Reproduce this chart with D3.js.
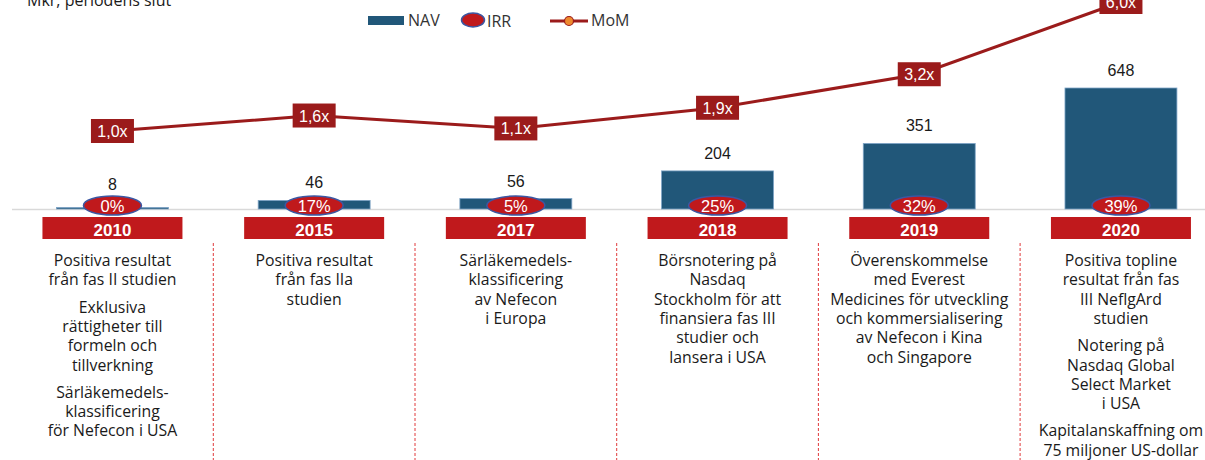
<!DOCTYPE html>
<html lang="sv">
<head>
  <meta charset="UTF-8">
  <title>NAV, IRR och MoM</title>
  <script src="https://d3js.org/d3.v7.min.js"></script>
  <style>
    body { margin: 0; background: #fff; }
    .desc { font-family: "Open Sans", sans-serif; font-size: 15.8px; fill: #1a1a1a; text-anchor: middle; }
    .val { font-family: "Liberation Sans", Arial, sans-serif; font-size: 16px; fill: #1a1a1a; text-anchor: middle; }
    .legend text { font-family: "Open Sans", sans-serif; font-size: 16px; fill: #333; }
  </style>
</head>
<body>
  <div id="chart"></div>

  <script>
    const years = ["2010", "2015", "2017", "2018", "2019", "2020"];
    const nav = [8, 46, 56, 204, 351, 648];
    const irr = [0, 17, 5, 25, 32, 39];
    const mom = [1.0, 1.6, 1.1, 1.9, 3.2, 6.0];
    const milestones = [
      [["Positiva resultat", "från fas II studien"], ["Exklusiva", "rättigheter till", "formeln och", "tillverkning"], ["Särläkemedels-", "klassificering", "för Nefecon i USA"]],
      [["Positiva resultat", "från fas IIa", "studien"]],
      [["Särläkemedels-", "klassificering", "av Nefecon", "i Europa"]],
      [["Börsnotering på", "Nasdaq", "Stockholm för att", "finansiera fas III", "studier och", "lansera i USA"]],
      [["Överenskommelse", "med Everest", "Medicines för utveckling", "och kommersialisering", "av Nefecon i Kina", "och Singapore"]],
      [["Positiva topline", "resultat från fas", "III NeflgArd", "studien"], ["Notering på", "Nasdaq Global", "Select Market", "i USA"], ["Kapitalanskaffning om", "75 miljoner US-dollar"]]
    ];

    const width = 1205, height = 460;
    const base = 209;

    const svg = d3.select("#chart").append("svg")
      .attr("width", width).attr("height", height);

    const x = d3.scaleBand()
      .domain(years)
      .range([11.6, 1221.8])
      .paddingInner(0.445)
      .paddingOuter(0.2225);
    const cx = d => x(d) + x.bandwidth() / 2;

    const y = d3.scaleLinear().domain([0, 648]).range([base, 88]);
    const yMom = d3.scaleLinear().domain([0, 6]).range([156.8, 2]);

    // title
    svg.append("text")
      .attr("x", 27).attr("y", 6)
      .style("font-family", "'Open Sans', sans-serif")
      .style("font-size", "16px")
      .attr("fill", "#1a1a1a")
      .text("Mkr, periodens slut¹");

    // legend
    const lg = svg.append("g").attr("class", "legend");
    lg.append("rect").attr("x", 368).attr("y", 16).attr("width", 36).attr("height", 9).attr("fill", "#215779");
    lg.append("text").attr("x", 408).attr("y", 26).text("NAV");
    lg.append("ellipse").attr("cx", 473).attr("cy", 20).attr("rx", 11.5).attr("ry", 7)
      .attr("fill", "#c0191c").attr("stroke", "#3b57a3").attr("stroke-width", 1.5);
    lg.append("text").attr("x", 487).attr("y", 27).text("IRR");
    lg.append("line").attr("x1", 550).attr("x2", 588).attr("y1", 21).attr("y2", 21)
      .attr("stroke", "#9b1b1b").attr("stroke-width", 3);
    lg.append("circle").attr("cx", 569).attr("cy", 21).attr("r", 4.5)
      .attr("fill", "#ee8a2e").attr("stroke", "#9b1b1b").attr("stroke-width", 1.2);
    lg.append("text").attr("x", 591).attr("y", 26).text("MoM");

    // baseline
    svg.append("line")
      .attr("x1", 12).attr("x2", width).attr("y1", base + 0.5).attr("y2", base + 0.5)
      .attr("stroke", "#d9d9d9").attr("stroke-width", 1.5);

    // bars
    svg.selectAll(".bar").data(years).enter().append("rect")
      .attr("class", "bar")
      .attr("x", d => x(d))
      .attr("y", (d, i) => Math.min(y(nav[i]), base - 1.5))
      .attr("width", x.bandwidth())
      .attr("height", (d, i) => Math.max(base - y(nav[i]), 1.5))
      .attr("fill", "#215779")
      .attr("stroke", "#7ea4c6")
      .attr("stroke-width", 0.8);

    svg.selectAll(".val").data(years).enter().append("text")
      .attr("class", "val")
      .attr("x", d => cx(d))
      .attr("y", (d, i) => Math.min(y(nav[i]) - 12, 190))
      .text((d, i) => nav[i]);

    // IRR ellipses
    const irrG = svg.selectAll(".irr").data(years).enter().append("g").attr("class", "irr");
    irrG.append("ellipse")
      .attr("cx", d => cx(d)).attr("cy", 205.5)
      .attr("rx", 29).attr("ry", 9.5)
      .attr("fill", "#c0191c").attr("stroke", "#3b57a3").attr("stroke-width", 1.5);
    irrG.append("text")
      .attr("x", d => cx(d)).attr("y", 212)
      .attr("text-anchor", "middle")
      .style("font-family", "'Liberation Sans', Arial, sans-serif")
      .style("font-size", "16.5px")
      .attr("fill", "#fff")
      .text((d, i) => irr[i] + "%");

    // year boxes
    const yrG = svg.selectAll(".yr").data(years).enter().append("g").attr("class", "yr");
    yrG.append("rect")
      .attr("x", d => cx(d) - 70).attr("y", 217)
      .attr("width", 140).attr("height", 22)
      .attr("fill", "#c0191c");
    yrG.append("text")
      .attr("x", d => cx(d)).attr("y", 236)
      .attr("text-anchor", "middle")
      .style("font-family", "'Liberation Sans', Arial, sans-serif")
      .style("font-size", "17px")
      .style("font-weight", "bold")
      .attr("fill", "#fff")
      .text(d => d);

    // dividers
    svg.selectAll(".div").data(years.slice(0, -1)).enter().append("line")
      .attr("x1", d => cx(d) + x.step() / 2).attr("x2", d => cx(d) + x.step() / 2)
      .attr("y1", 243).attr("y2", height)
      .attr("stroke", "#e03a3c").attr("stroke-width", 1)
      .attr("stroke-dasharray", "3,2");

    // milestone texts
    const lineH = 19.3, parGap = 8;
    years.forEach((yr, i) => {
      let yy = 266;
      const t = svg.append("text").attr("class", "desc");
      milestones[i].forEach((par, pi) => {
        if (pi > 0) yy += parGap;
        par.forEach(l => {
          t.append("tspan").attr("x", cx(yr)).attr("y", yy).text(l);
          yy += lineH;
        });
      });
    });

    // MoM line
    const line = d3.line().x((d, i) => cx(years[i])).y(d => yMom(d));
    svg.append("path").datum(mom)
      .attr("d", line)
      .attr("fill", "none")
      .attr("stroke", "#9b1b1b")
      .attr("stroke-width", 3);

    const momG = svg.selectAll(".mom").data(years).enter().append("g").attr("class", "mom");
    momG.append("rect")
      .attr("x", d => cx(d) - 21.5)
      .attr("y", (d, i) => yMom(mom[i]) - 12)
      .attr("width", 43).attr("height", 24)
      .attr("fill", "#9b1b1b");
    momG.append("text")
      .attr("x", d => cx(d))
      .attr("y", (d, i) => yMom(mom[i]) + 6)
      .attr("text-anchor", "middle")
      .style("font-family", "'Liberation Sans', Arial, sans-serif")
      .style("font-size", "16px")
      .attr("fill", "#fff")
      .text((d, i) => mom[i].toFixed(1).replace(".", ",") + "x");
  </script>
</body>
</html>
